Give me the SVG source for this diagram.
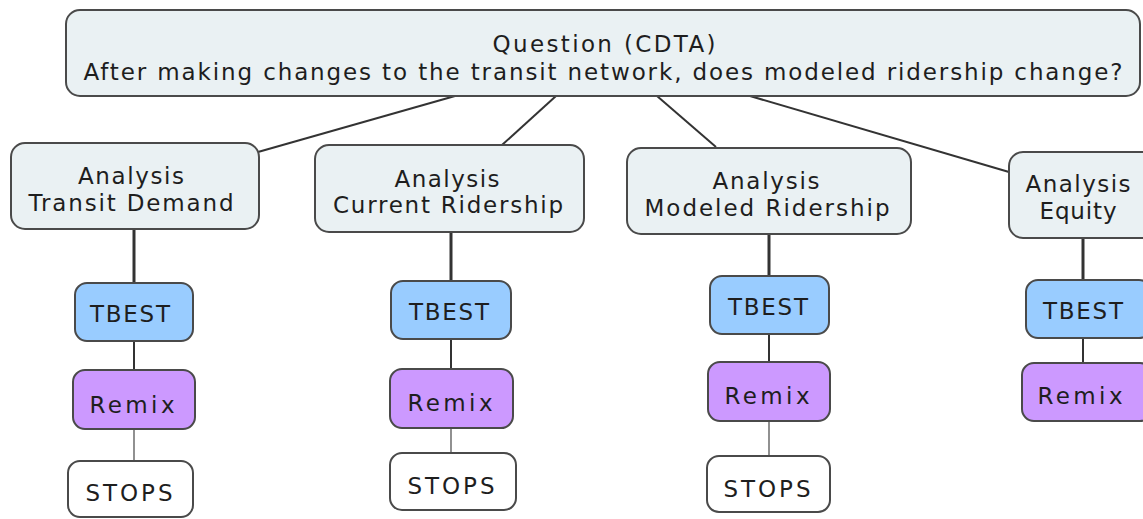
<svg xmlns="http://www.w3.org/2000/svg" width="1143" height="519" viewBox="0 0 1143 519">
<style>
text{font-family:"DejaVu Sans",sans-serif;font-size:23px;fill:#1e1e1e;text-anchor:middle}
.q{fill:#eaf1f3;stroke:#4a4a4a;stroke-width:2}
.t{fill:#99ccff;stroke:#4a4a4a;stroke-width:2}
.r{fill:#cc99ff;stroke:#4a4a4a;stroke-width:2}
.s{fill:#fff;stroke:#4a4a4a;stroke-width:2}
.c1{stroke:#333;stroke-width:2;fill:none}
.c3{stroke:#333;stroke-width:3;fill:none}
.c2{stroke:#333;stroke-width:2;fill:none}
.c0{stroke:#555;stroke-width:1.3;fill:none}
</style>
<rect width="1143" height="519" fill="#fff"/>
<g id="connectors">
<line class="c1" x1="455" y1="96" x2="258" y2="152"/>
<line class="c1" x1="556" y1="96" x2="502" y2="145"/>
<line class="c1" x1="657" y1="96" x2="716" y2="147"/>
<line class="c1" x1="750" y1="96" x2="1009" y2="172"/>
<line class="c3" x1="134" y1="229" x2="134" y2="283"/>
<line class="c2" x1="134" y1="341" x2="134" y2="370"/>
<line class="c0" x1="134" y1="429" x2="134" y2="461"/>
<line class="c3" x1="451" y1="232" x2="451" y2="281"/>
<line class="c2" x1="451" y1="339" x2="451" y2="369"/>
<line class="c0" x1="451" y1="428" x2="451" y2="453"/>
<line class="c3" x1="769" y1="234" x2="769" y2="276"/>
<line class="c2" x1="769" y1="334" x2="769" y2="362"/>
<line class="c0" x1="769" y1="421" x2="769" y2="456"/>
<line class="c3" x1="1083" y1="238" x2="1083" y2="280"/>
<line class="c2" x1="1083" y1="338" x2="1083" y2="363"/>
</g>
<g id="question">
<rect class="q" x="66" y="10" width="1074" height="86" rx="14"/>
<text x="604" y="52" textLength="223" lengthAdjust="spacing">Question (CDTA)</text>
<text x="603" y="80" textLength="1039" lengthAdjust="spacing">After making changes to the transit network, does modeled ridership change?</text>
</g>
<g id="a1">
<rect class="q" x="11" y="143" width="248" height="86" rx="14"/>
<text x="131" y="184" textLength="106" lengthAdjust="spacing">Analysis</text>
<text x="131" y="211" textLength="205" lengthAdjust="spacing">Transit Demand</text>
</g>
<g id="a2">
<rect class="q" x="315" y="145" width="269" height="87" rx="14"/>
<text x="447" y="187" textLength="105" lengthAdjust="spacing">Analysis</text>
<text x="448" y="213" textLength="230" lengthAdjust="spacing">Current Ridership</text>
</g>
<g id="a3">
<rect class="q" x="627" y="148" width="284" height="86" rx="14"/>
<text x="766" y="189" textLength="107" lengthAdjust="spacing">Analysis</text>
<text x="767" y="216" textLength="245" lengthAdjust="spacing">Modeled Ridership</text>
</g>
<g id="a4">
<rect class="q" x="1009" y="152" width="150" height="86" rx="14"/>
<text x="1078" y="192" textLength="105" lengthAdjust="spacing">Analysis</text>
<text x="1078" y="219" textLength="77" lengthAdjust="spacing">Equity</text>
</g>
<g id="t1"><rect class="t" x="75" y="283" width="118" height="58" rx="12"/><text x="130" y="322" textLength="80" lengthAdjust="spacing">TBEST</text></g>
<g id="t2"><rect class="t" x="391" y="281" width="120" height="58" rx="12"/><text x="449" y="320" textLength="80" lengthAdjust="spacing">TBEST</text></g>
<g id="t3"><rect class="t" x="710" y="276" width="119" height="58" rx="12"/><text x="768" y="315" textLength="80" lengthAdjust="spacing">TBEST</text></g>
<g id="t4"><rect class="t" x="1026" y="280" width="125" height="58" rx="12"/><text x="1083" y="319" textLength="80" lengthAdjust="spacing">TBEST</text></g>
<g id="r1"><rect class="r" x="73" y="370" width="122" height="59" rx="12"/><text x="132" y="413" textLength="85" lengthAdjust="spacing">Remix</text></g>
<g id="r2"><rect class="r" x="390" y="369" width="123" height="59" rx="12"/><text x="450" y="411" textLength="85" lengthAdjust="spacing">Remix</text></g>
<g id="r3"><rect class="r" x="708" y="362" width="122" height="59" rx="12"/><text x="767" y="404" textLength="85" lengthAdjust="spacing">Remix</text></g>
<g id="r4"><rect class="r" x="1022" y="363" width="130" height="58" rx="12"/><text x="1080" y="404" textLength="85" lengthAdjust="spacing">Remix</text></g>
<g id="s1"><rect class="s" x="68" y="461" width="125" height="56" rx="12"/><text x="129" y="501" textLength="87" lengthAdjust="spacing">STOPS</text></g>
<g id="s2"><rect class="s" x="390" y="453" width="126" height="57" rx="12"/><text x="451" y="494" textLength="87" lengthAdjust="spacing">STOPS</text></g>
<g id="s3"><rect class="s" x="707" y="456" width="123" height="56" rx="12"/><text x="767" y="497" textLength="87" lengthAdjust="spacing">STOPS</text></g>
</svg>
